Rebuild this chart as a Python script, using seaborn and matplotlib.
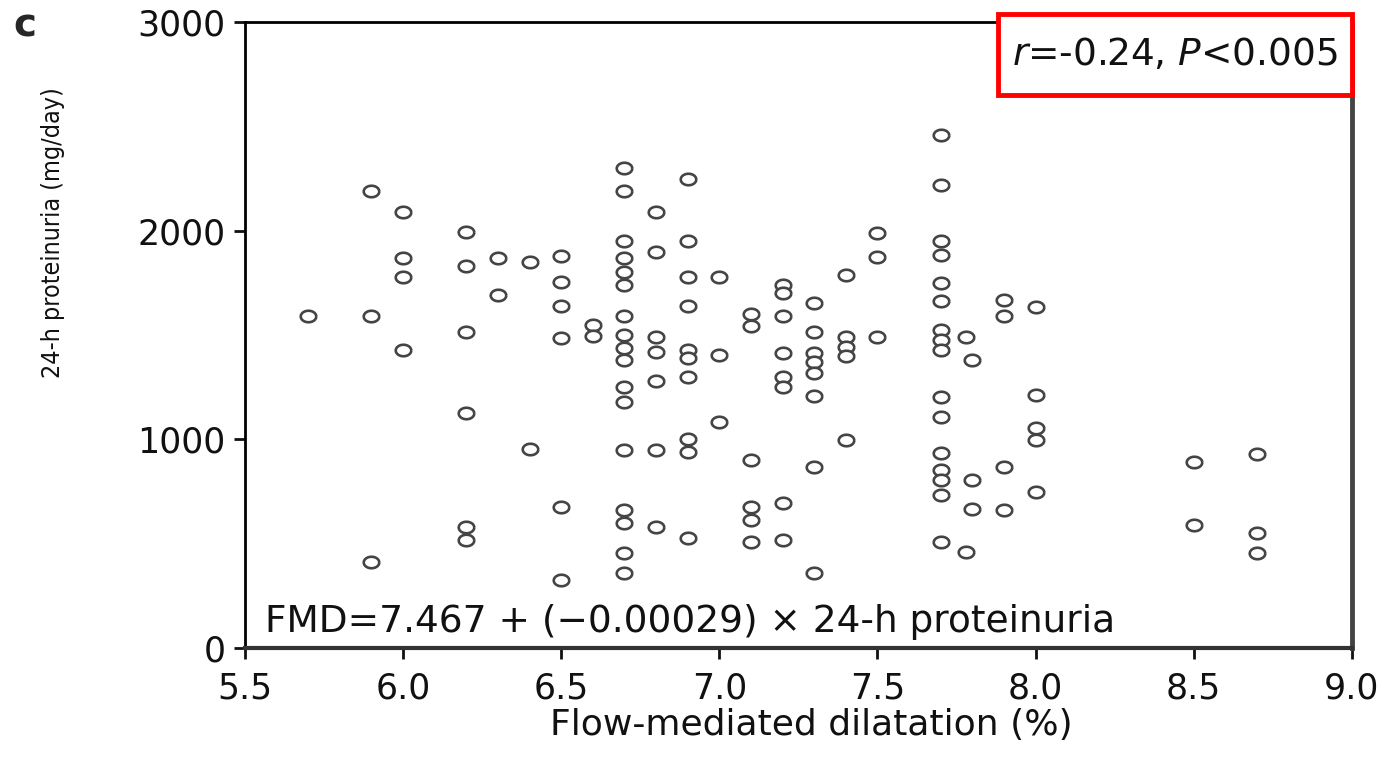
import numpy as np
import pandas as pd
from matplotlib import pyplot as plt
from matplotlib import font_manager
import matplotlib.patches as patches
import seaborn as sns

# FMD (%) and 24-h proteinuria (mg/day), read column by column
fmd = ([5.7] + [5.9] * 3 + [6.0] * 4 + [6.2] * 6 + [6.3] * 2 + [6.4] * 2
       + [6.5] * 6 + [6.6] * 2 + [6.7] * 17 + [6.8] * 7 + [6.9] * 10
       + [7.0] * 3 + [7.1] * 6 + [7.2] * 8 + [7.3] * 8 + [7.4] * 5 + [7.5] * 3
       + [7.7] * 16 + [7.78] * 2 + [7.8] * 3 + [7.9] * 4 + [8.0] * 5
       + [8.5] * 2 + [8.7] * 3)
proteinuria = [
    1590,
    2190, 1590, 412,
    2090, 1870, 1780, 1428,
    1995, 1830, 1515, 1126, 580, 518,
    1870, 1690,
    1850, 955,
    1880, 1755, 1640, 1485, 676, 326,
    1548, 1495,
    2300, 2190, 1950, 1870, 1800, 1740, 1590, 1500, 1440, 1380, 1250, 1180, 950, 660, 600, 455, 360,
    2090, 1900, 1490, 1420, 1280, 950, 580,
    2250, 1950, 1780, 1640, 1430, 1390, 1300, 1000, 940, 530,
    1780, 1405, 1085,
    1600, 1545, 900, 676, 613, 510,
    1740, 1700, 1590, 1415, 1300, 1250, 695, 517,
    1655, 1515, 1415, 1370, 1320, 1210, 868, 359,
    1790, 1490, 1445, 1400, 997,
    1990, 1875, 1490,
    2460, 2220, 1950, 1885, 1750, 1665, 1525, 1475, 1430, 1205, 1107, 935, 855, 805, 735, 510,
    1490, 460,
    1380, 805, 665,
    1670, 1590, 868, 661,
    1635, 1212, 1054, 997, 748,
    891, 589,
    929, 551, 455,
]

x_ticks = [5.5, 6.0, 6.5, 7.0, 7.5, 8.0, 8.5, 9.0]
y_ticks = [0, 1000, 2000, 3000]

df = pd.DataFrame({'fmd': fmd, 'prot': proteinuria})

sns.set_style('ticks')
plt.rcParams['font.family'] = ['DejaVu Sans']

fig = plt.figure(figsize=(13.87, 7.67), dpi=100)
ax = fig.add_axes([0.1766, 0.155, 0.798, 0.8163])

# slightly wide oval marker like the scanned figure
t = np.linspace(0, 2 * np.pi, 40)
oval = np.column_stack([np.cos(t) * 1.35, np.sin(t)])

sns.scatterplot(data=df, x='fmd', y='prot', ax=ax, marker=oval, s=125,
                facecolor='white', edgecolor='#444444', linewidth=1.9,
                clip_on=False, zorder=3)

ax.set_xlim(5.5, 9.0)
ax.set_ylim(0, 3000)
ax.set_xticks(x_ticks)
ax.set_xticklabels([f'{v:.1f}' for v in x_ticks])
ax.set_yticks(y_ticks)
ax.tick_params(axis='both', direction='out', length=8, width=2,
               labelsize=25, colors='#111111', left=True, bottom=True)
ax.tick_params(axis='x', pad=9)
ax.tick_params(axis='y', pad=6)

for side in ['left', 'top']:
    ax.spines[side].set_color('black')
    ax.spines[side].set_linewidth(2)
ax.spines['bottom'].set_color('#333333')
ax.spines['bottom'].set_linewidth(3)
ax.spines['right'].set_color('#444444')
ax.spines['right'].set_linewidth(3.5)

ax.set_xlabel('Flow-mediated dilatation (%)', fontsize=26, color='#111111')
ax.xaxis.set_label_coords(0.512, -0.095)

# the y label in the figure is a narrow face; use condensed DejaVu if present
condensed = any(f.name == 'DejaVu Sans' and f.stretch == 'condensed'
                for f in font_manager.fontManager.ttflist)
if condensed:
    ax.set_ylabel('24-h proteinuria (mg/day)', fontsize=18, color='#111111',
                  fontstretch='condensed')
else:
    ax.set_ylabel('24-h proteinuria (mg/day)', fontsize=16, color='#111111')
ax.yaxis.set_label_coords(-0.163, 0.663)

ax.text(0.018, 0.026, 'FMD=7.467 + (\u22120.00029) \u00d7 24-h proteinuria',
        transform=ax.transAxes, fontsize=27, ha='left', va='baseline',
        color='#111111')

# red box round the correlation, sitting over the top spine
box = patches.Rectangle((0.680, 0.8834), 0.320, 0.1294, transform=ax.transAxes,
                        facecolor='white', edgecolor='#ff0000', linewidth=3.5,
                        clip_on=False, zorder=5)
ax.add_patch(box)
ax.text(0.840, 0.947, r'$r$=-0.24, $P$<0.005', transform=ax.transAxes,
        fontsize=27, ha='center', va='center', color='#111111', clip_on=False,
        zorder=6)

fig.text(0.010, 0.967, 'c', fontsize=28, fontweight='bold', va='center')

fig.savefig('out.png', dpi=100)
